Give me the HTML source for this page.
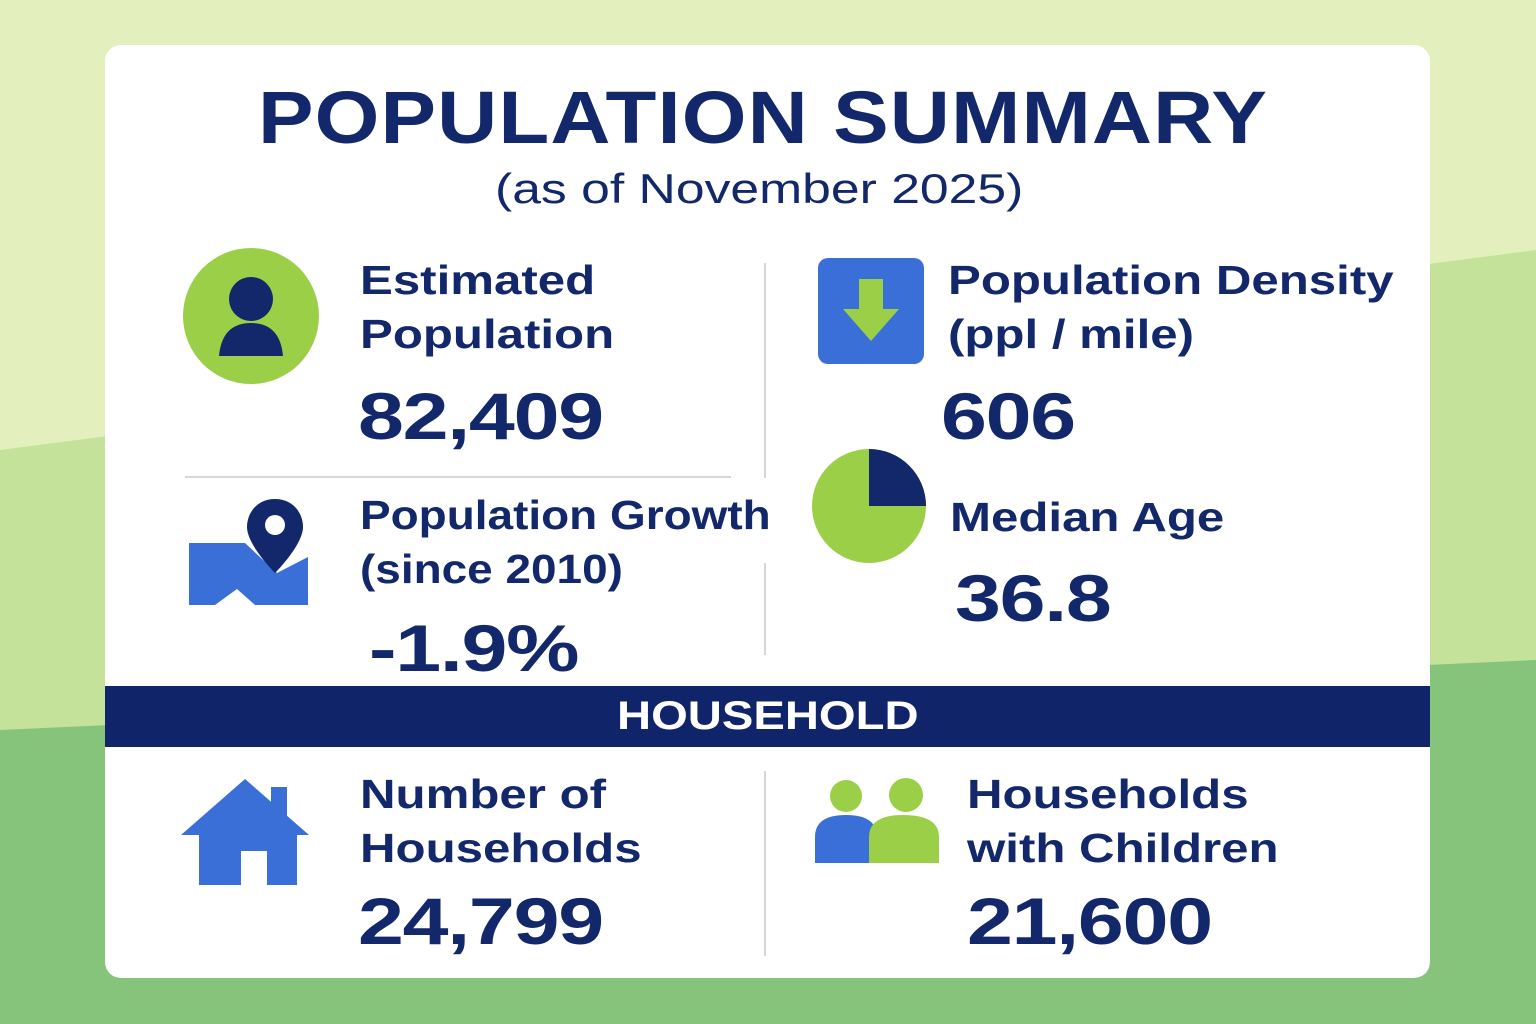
<!DOCTYPE html>
<html><head><meta charset="utf-8"><style>
body{margin:0;width:1536px;height:1024px;position:relative;overflow:hidden;font-family:"Liberation Sans",sans-serif;}
.bg{position:absolute;left:0;top:0}
.card{position:absolute;left:105px;top:45px;width:1325px;height:933px;background:#fff;border-radius:16px;overflow:hidden}
.t{position:absolute;color:#13286b;font-weight:bold;white-space:nowrap;transform-origin:0 0}
.lab{font-size:41px;line-height:54px;transform:scaleX(1.2)}
.val{font-size:66px;letter-spacing:-1px;transform:scaleX(1.25)}
.vl{position:absolute;width:2px;background:#d6d6d6}
</style></head><body>
<svg class="bg" width="1536" height="1024">
<rect width="1536" height="1024" fill="#e3f0bd"/>
<polygon points="0,450 1536,250 1536,1024 0,1024" fill="#c4e29a"/>
<polygon points="0,730 1536,660 1536,1024 0,1024" fill="#86c47c"/>
</svg>
<div class="card">
<div class="t" style="left:153px;top:30px;font-size:74px;letter-spacing:1px;transform:scaleX(1.125)">POPULATION SUMMARY</div>
<div class="t" style="left:390px;top:120px;font-size:42px;font-weight:normal;transform:scaleX(1.23)">(as of November 2025)</div>

<div class="vl" style="left:659px;top:218px;height:215px"></div>
<div class="vl" style="left:659px;top:518px;height:92px"></div>
<div class="vl" style="left:659px;top:726px;height:185px"></div>
<div style="position:absolute;left:80px;top:431px;width:546px;height:2px;background:#d6d6d6"></div>

<svg style="position:absolute;left:77px;top:202px" width="140" height="140">
<circle cx="69" cy="69" r="68" fill="#9ccf48"/><circle cx="69" cy="52" r="22" fill="#13286b"/><path d="M37 109 Q40 76 69 76 Q98 76 101 109 Z" fill="#13286b"/></svg>
<div class="t lab" style="left:255px;top:208px">Estimated<br>Population</div>
<div class="t val" style="left:253px;top:333px">82,409</div>

<svg style="position:absolute;left:712px;top:212px" width="108" height="108">
<rect x="1" y="1" width="106" height="106" rx="10" fill="#3a6fd8"/><path d="M42 22 H66 V52 H82 L54 84 L26 52 H42 Z" fill="#9ccf48"/></svg>
<div class="t lab" style="left:843px;top:208px">Population Density<br>(ppl / mile)</div>
<div class="t val" style="left:836px;top:333px">606</div>

<svg style="position:absolute;left:80px;top:452px" width="130" height="112">
<path d="M4 46 H60 L92 76 L123 60 V108 H70 L52 92 L30 108 H4 Z" fill="#3a6fd8"/>
<path d="M90 2 C72 2 62 16 62 30 C62 48 90 76 90 76 C90 76 118 48 118 30 C118 16 108 2 90 2 Z" fill="#13286b"/><circle cx="90" cy="28" r="10" fill="#fff"/></svg>
<div class="t lab" style="left:255px;top:443px;transform:scaleX(1.12)">Population Growth<br>(since 2010)</div>
<div class="t val" style="left:264px;top:565px">-1.9%</div>

<svg style="position:absolute;left:705px;top:402px" width="118" height="118">
<circle cx="59" cy="59" r="57" fill="#9ccf48"/><path d="M59 59 V2 A57 57 0 0 1 116 59 Z" fill="#13286b"/></svg>
<div class="t lab" style="left:845px;top:445px">Median Age</div>
<div class="t val" style="left:850px;top:515px">36.8</div>

<div style="position:absolute;left:0;top:641px;width:1325px;height:61px;background:#10246a;text-align:center;line-height:61px"><span style="display:inline-block;color:#fff;font-weight:bold;font-size:40px;transform:scaleX(1.18)">HOUSEHOLD</span></div>

<svg style="position:absolute;left:74px;top:730px" width="132" height="112">
<path d="M66 4 L130 60 L118 60 V110 H88 V76 H62 V110 H20 V60 H2 Z" fill="#3a6fd8"/><rect x="92" y="12" width="16" height="30" fill="#3a6fd8"/></svg>
<div class="t lab" style="left:255px;top:722px">Number of<br>Households</div>
<div class="t val" style="left:253px;top:838px">24,799</div>

<svg style="position:absolute;left:708px;top:730px" width="128" height="90">
<circle cx="33" cy="21" r="16" fill="#9ccf48"/><path d="M2 88 V62 Q2 40 33 40 Q64 40 64 62 V88 Z" fill="#3a6fd8"/>
<circle cx="93" cy="20" r="17" fill="#9ccf48"/><path d="M56 88 V62 Q56 40 90 40 Q126 40 126 62 V88 Z" fill="#9ccf48"/></svg>
<div class="t lab" style="left:862px;top:722px">Households<br>with Children</div>
<div class="t val" style="left:862px;top:838px">21,600</div>
</div>
</body></html>
